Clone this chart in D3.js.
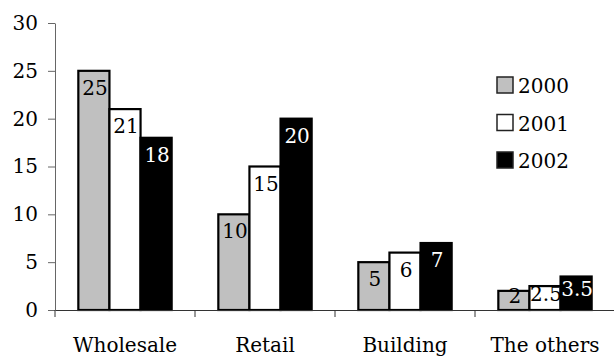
<!DOCTYPE html>
<html>
<head>
<meta charset="utf-8">
<script src="https://cdn.jsdelivr.net/npm/d3@7"></script>
<style>
  body { margin: 0; background: #fff; }
  svg { display: block; }
</style>
</head>
<body>
<svg width="614" height="356"></svg>
<script>
// chart data
const categories = ["Wholesale", "Retail", "Building", "The others"];
const years = ["2000", "2001", "2002"];
const values2000 = [25, 10, 5, 2];
const values2001 = [21, 15, 6, 2.5];
const values2002 = [18, 20, 7, 3.5];
const yTicks = [0, 5, 10, 15, 20, 25, 30];

const seriesValues = [values2000, values2001, values2002];
const fills = ["#c0c0c0", "#ffffff", "#000000"];
const labelColors = ["#000", "#000", "#fff"];

const svg = d3.select("svg");
const margin = { top: 23, right: -1, bottom: 46, left: 55 };
const width = +svg.attr("width");
const height = +svg.attr("height");
const fontSize = 20;
const serif = "DejaVu Serif";

const x = d3.scaleBand()
    .domain(categories)
    .range([margin.left, width - margin.right])
    .paddingInner(0)
    .paddingOuter(0);

const xInner = d3.scaleBand()
    .domain(years)
    .range([0, x.bandwidth()])
    .paddingOuter(0.75)
    .paddingInner(0);

const y = d3.scaleLinear()
    .domain([0, 30])
    .range([height - margin.bottom, margin.top]);

// Y axis
const yAxis = svg.append("g")
    .attr("transform", `translate(${margin.left},0)`)
    .call(d3.axisLeft(y).tickValues(yTicks).tickSize(7).tickPadding(10).tickSizeOuter(0))
    .attr("font-family", serif)
    .attr("font-size", fontSize);
yAxis.select(".domain").attr("stroke", "#666");
yAxis.selectAll(".tick line").attr("stroke", "#666");
yAxis.selectAll("text").attr("fill", "#000");

// bars
const rows = [];
categories.forEach((c, i) => {
    years.forEach((yr, j) => {
        rows.push({ cat: c, year: yr, s: j, v: seriesValues[j][i] });
    });
});

svg.append("g").selectAll("rect")
    .data(rows)
    .enter().append("rect")
    .attr("x", d => x(d.cat) + xInner(d.year))
    .attr("y", d => y(d.v))
    .attr("width", xInner.bandwidth())
    .attr("height", d => y(0) - y(d.v))
    .attr("fill", d => fills[d.s])
    .attr("stroke", "#000")
    .attr("stroke-width", 2.2);

// value labels inside top of bars
svg.append("g")
    .attr("font-family", serif)
    .attr("font-size", fontSize)
    .selectAll("text")
    .data(rows)
    .enter().append("text")
    .attr("x", d => x(d.cat) + xInner(d.year) + xInner.bandwidth() / 2 + 1)
    .attr("y", d => {
        const top = y(d.v);
        return Math.min(top + 24, (top + y(0)) / 2 + 3);
    })
    .attr("text-anchor", "middle")
    .attr("fill", d => labelColors[d.s])
    .text(d => d.v);

// X axis
const xAxis = svg.append("g")
    .attr("transform", `translate(0,${y(0)})`)
    .call(d3.axisBottom(x).tickSize(0).tickPadding(28).tickSizeOuter(0))
    .attr("font-family", serif)
    .attr("font-size", fontSize);
xAxis.select(".domain").attr("stroke", "#333");
xAxis.selectAll("text").attr("fill", "#000");

// category boundary ticks
const bounds = categories.map(c => x(c)).concat([x(categories[categories.length - 1]) + x.bandwidth()]);
xAxis.selectAll(".bound")
    .data(bounds)
    .enter().append("line")
    .attr("x1", d => d)
    .attr("x2", d => d)
    .attr("y1", 0)
    .attr("y2", 7)
    .attr("stroke", "#333");

// legend
const legend = svg.append("g")
    .attr("transform", "translate(497,77)")
    .attr("font-family", serif)
    .attr("font-size", fontSize);
const item = legend.selectAll("g")
    .data(years)
    .enter().append("g")
    .attr("transform", (d, i) => `translate(0,${i * 37.5})`);
item.append("rect")
    .attr("width", 16)
    .attr("height", 16)
    .attr("fill", (d, i) => fills[i])
    .attr("stroke", "#222")
    .attr("stroke-width", 1.5);
item.append("text")
    .attr("x", 21)
    .attr("y", 16)
    .attr("fill", "#000")
    .text(d => d);
</script>
</body>
</html>
